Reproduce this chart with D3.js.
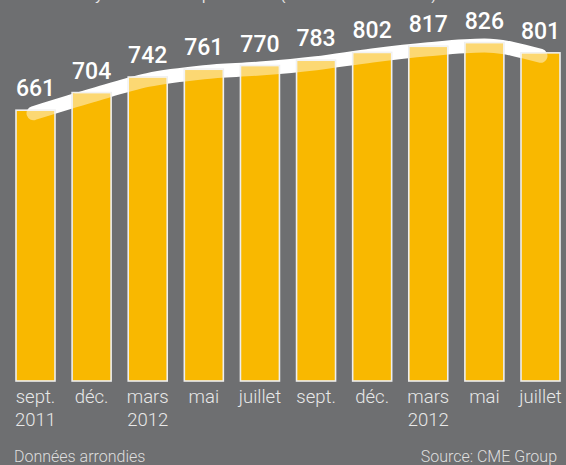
<!DOCTYPE html>
<html>
<head>
<meta charset="utf-8">
<script src="https://cdn.jsdelivr.net/npm/d3@7"></script>
<style>
  html, body { margin: 0; padding: 0; background: #6e6f71; }
  svg { display: block; }
</style>
</head>
<body>
<div id="chart"></div>
<script>
let w = 566;
let h = 465;

// data
let months = ["sept.", "déc.", "mars", "mai", "juillet", "sept.", "déc.", "mars", "mai", "juillet"];
let years = ["2011", "", "2012", "", "", "", "", "2012", "", ""];
let values = [661, 704, 742, 761, 770, 783, 802, 817, 826, 801];

let svg = d3.select("#chart").append("svg")
  .attr("width", w)
  .attr("height", h);

svg.append("rect")
  .attr("width", w)
  .attr("height", h)
  .attr("fill", "#6e6f71");

let ids = d3.range(values.length);

let xScale = d3.scaleBand().domain(ids).range([16, 560]).paddingInner(0.305);
let yScale = d3.scaleLinear().domain([0, 930]).range([381, 0]);

// cut-off title at the top
svg.append("text")
  .text("Nombre moyen de contrats par séance (en milliers de contrats)")
  .attr("x", 17)
  .attr("y", -0.5)
  .attr("fill", "#e6e6e6")
  .style("font-family", "'Liberation Sans', sans-serif")
  .style("font-size", "15px");

// ribbon line
let ribbonPts = ids.map(function(i){
  return [xScale(i) + xScale.bandwidth() / 2, yScale(values[i]) + 3];
});
ribbonPts[0][0] -= 2;
let lineMaker = d3.line().curve(d3.curveMonotoneX);

svg.append("path")
  .attr("d", lineMaker(ribbonPts))
  .attr("fill", "none")
  .attr("stroke", "#ffffff")
  .attr("stroke-width", 14)
  .attr("stroke-linecap", "round");

// bars
let defs = svg.append("defs");
let clip = defs.append("clipPath").attr("id", "barclip");
clip.selectAll("rect").data(values).enter()
  .append("rect")
  .attr("x", function(d, i){ return xScale(i); })
  .attr("y", function(d){ return yScale(d); })
  .attr("width", xScale.bandwidth())
  .attr("height", function(d){ return yScale(0) - yScale(d); });

svg.selectAll(".bar").data(values).enter()
  .append("rect")
  .attr("class", "bar")
  .attr("x", function(d, i){ return xScale(i); })
  .attr("y", function(d){ return yScale(d); })
  .attr("width", xScale.bandwidth())
  .attr("height", function(d){ return yScale(0) - yScale(d); })
  .attr("fill", "#f9b800")
  .attr("stroke", "#eeeeee")
  .attr("stroke-width", 1.6);

// ribbon seen through the bars
svg.append("path")
  .attr("d", lineMaker(ribbonPts))
  .attr("fill", "none")
  .attr("stroke", "#ffffff")
  .attr("stroke-opacity", 0.45)
  .attr("stroke-width", 14)
  .attr("stroke-linecap", "round")
  .attr("clip-path", "url(#barclip)");

// value labels
svg.selectAll(".val").data(values).enter()
  .append("text")
  .attr("class", "val")
  .text(function(d){ return d; })
  .attr("x", function(d, i){ return xScale(i) + xScale.bandwidth() / 2; })
  .attr("y", function(d){ return yScale(d) - 14; })
  .attr("text-anchor", "middle")
  .attr("fill", "#ffffff")
  .style("font-family", "Roboto, sans-serif")
  .style("font-weight", "500")
  .style("font-size", "23px");

// x axis labels
let xAxis = d3.axisBottom(xScale).tickSize(0).tickPadding(0).tickFormat(function(i){ return months[i]; });
let xAxisGroup = svg.append("g")
  .attr("transform", "translate(0,381)")
  .call(xAxis);
xAxisGroup.select(".domain").remove();
xAxisGroup.selectAll(".tick text")
  .attr("y", 22)
  .attr("dy", 0)
  .attr("fill", "#e8e8e8")
  .style("font-family", "Roboto, sans-serif")
  .style("font-weight", "300")
  .style("font-size", "18.5px");
xAxisGroup.selectAll(".tick").append("text")
  .text(function(i){ return years[i]; })
  .attr("y", 45)
  .attr("text-anchor", "middle")
  .attr("fill", "#e8e8e8")
  .style("font-family", "Roboto, sans-serif")
  .style("font-weight", "300")
  .style("font-size", "18.5px");

// footer
svg.append("text")
  .text("Données arrondies")
  .attr("x", 14)
  .attr("y", 462)
  .attr("fill", "#dedede")
  .style("font-family", "Roboto, sans-serif")
  .style("font-weight", "300")
  .style("font-size", "16px");
svg.append("text")
  .text("Source: CME Group")
  .attr("x", 557)
  .attr("y", 462)
  .attr("text-anchor", "end")
  .attr("fill", "#dedede")
  .style("font-family", "Roboto, sans-serif")
  .style("font-weight", "300")
  .style("font-size", "16px");
</script>
</body>
</html>
